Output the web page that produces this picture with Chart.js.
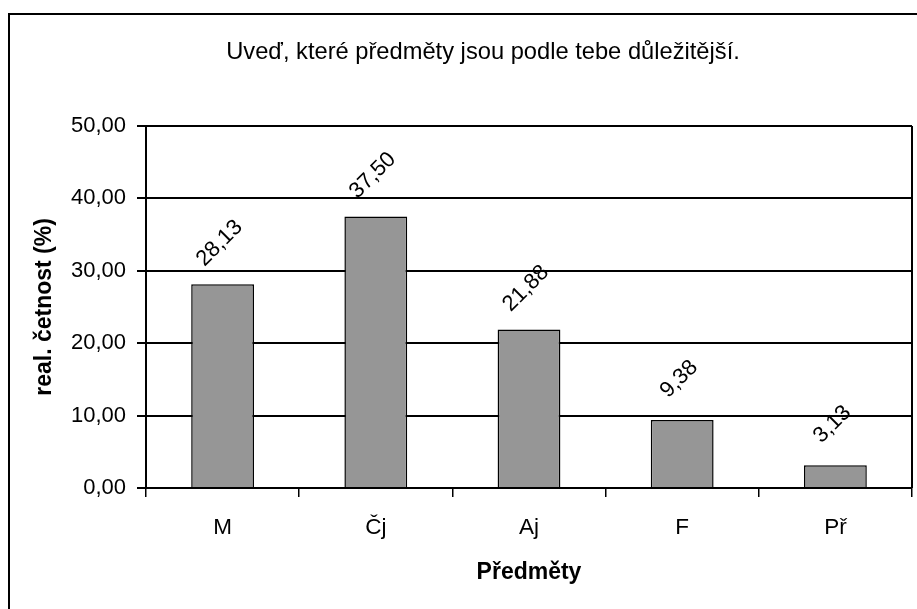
<!DOCTYPE html>
<html>
<head>
<meta charset="utf-8">
<script src="https://cdn.jsdelivr.net/npm/chart.js@4/dist/chart.umd.min.js"></script>
<style>
  html, body { margin: 0; padding: 0; background: #fff; overflow: hidden; }
  #wrap { position: relative; width: 917px; height: 609px; }
</style>
</head>
<body>
<div id="wrap"><canvas id="c" width="917" height="609"></canvas></div>
<script>
const chartTitle = 'Uveď, které předměty jsou podle tebe důležitější.';
const categories = ['M', 'Čj', 'Aj', 'F', 'Př'];
const values = [28.13, 37.50, 21.88, 9.38, 3.13];
const yAxisTitle = 'real. četnost (%)';
const xAxisTitle = 'Předměty';
const yMin = 0, yMax = 50, yStep = 10;

const FONT = "'Liberation Sans', Arial, sans-serif";
const fmt = v => Number(v).toFixed(2).replace('.', ',');

const framePlugin = {
  id: 'frame',
  beforeDraw(chart) {
    const ctx = chart.ctx;
    ctx.save();
    ctx.strokeStyle = '#000';
    ctx.lineWidth = 2;
    ctx.beginPath();
    ctx.moveTo(9, 700);
    ctx.lineTo(9, 14);
    ctx.lineTo(1000, 14);
    ctx.stroke();
    ctx.restore();
  },
  afterDatasetsDraw(chart) {
    const ctx = chart.ctx;
    const a = chart.chartArea;
    ctx.save();
    ctx.strokeStyle = '#000';
    ctx.lineWidth = 2;
    ctx.beginPath();
    ctx.moveTo(a.right, a.top);
    ctx.lineTo(a.right, a.bottom);
    ctx.stroke();
    ctx.restore();
  }
};

const labelPlugin = {
  id: 'barLabels',
  afterDatasetsDraw(chart) {
    const ctx = chart.ctx;
    const meta = chart.getDatasetMeta(0);
    ctx.save();
    ctx.fillStyle = '#000';
    ctx.font = '22px ' + FONT;
    ctx.textAlign = 'center';
    ctx.textBaseline = 'middle';
    meta.data.forEach((bar, i) => {
      ctx.save();
      ctx.translate(bar.x - 3, bar.y - 41);
      ctx.rotate(-Math.PI / 4);
      ctx.fillText(fmt(chart.data.datasets[0].data[i]), 0, 0);
      ctx.restore();
    });
    ctx.restore();
  }
};

new Chart(document.getElementById('c'), {
  type: 'bar',
  data: {
    labels: categories,
    datasets: [{
      data: values,
      backgroundColor: '#969696',
      borderColor: '#000',
      borderWidth: 1.5,
      borderSkipped: 'start',
      categoryPercentage: 1,
      barPercentage: 0.41
    }]
  },
  options: {
    responsive: false,
    animation: false,
    devicePixelRatio: 1,
    layout: { padding: { left: 54, right: 5, top: 0, bottom: 0 } },
    plugins: {
      legend: { display: false },
      tooltip: { enabled: false },
      title: {
        display: true,
        text: chartTitle,
        color: '#000',
        font: { family: FONT, size: 23.7, weight: 'normal', lineHeight: 1.2 },
        padding: { top: 38, bottom: 59.5 }
      }
    },
    scales: {
      x: {
        type: 'category',
        offset: true,
        grid: {
          offset: true,
          drawOnChartArea: false,
          drawTicks: true,
          tickLength: 9,
          color: '#000',
          lineWidth: 1.5
        },
        border: { display: true, color: '#000', width: 2 },
        ticks: { color: '#000', font: { family: FONT, size: 22.5 }, padding: 17, maxRotation: 0 },
        title: {
          display: true,
          text: xAxisTitle,
          color: '#000',
          font: { family: FONT, size: 23, weight: 'bold', lineHeight: 1.2 },
          padding: { top: 0, bottom: 22.2 }
        },
        afterFit(scale) { scale.height = 121; }
      },
      y: {
        min: yMin,
        max: yMax,
        ticks: {
          stepSize: yStep,
          color: '#000',
          font: { family: FONT, size: 22 },
          padding: 11,
          callback: v => fmt(v)
        },
        grid: {
          color: '#000',
          lineWidth: 2,
          tickLength: 9,
          drawTicks: true
        },
        border: { display: true, color: '#000', width: 2 },
        title: {
          display: true,
          text: yAxisTitle,
          color: '#000',
          font: { family: FONT, size: 23, weight: 'bold', lineHeight: 1.2 },
          padding: { top: -22.8, bottom: 0 }
        },
        afterFit(scale) { scale.width = 92; }
      }
    }
  },
  plugins: [framePlugin, labelPlugin]
});
</script>
</body>
</html>
